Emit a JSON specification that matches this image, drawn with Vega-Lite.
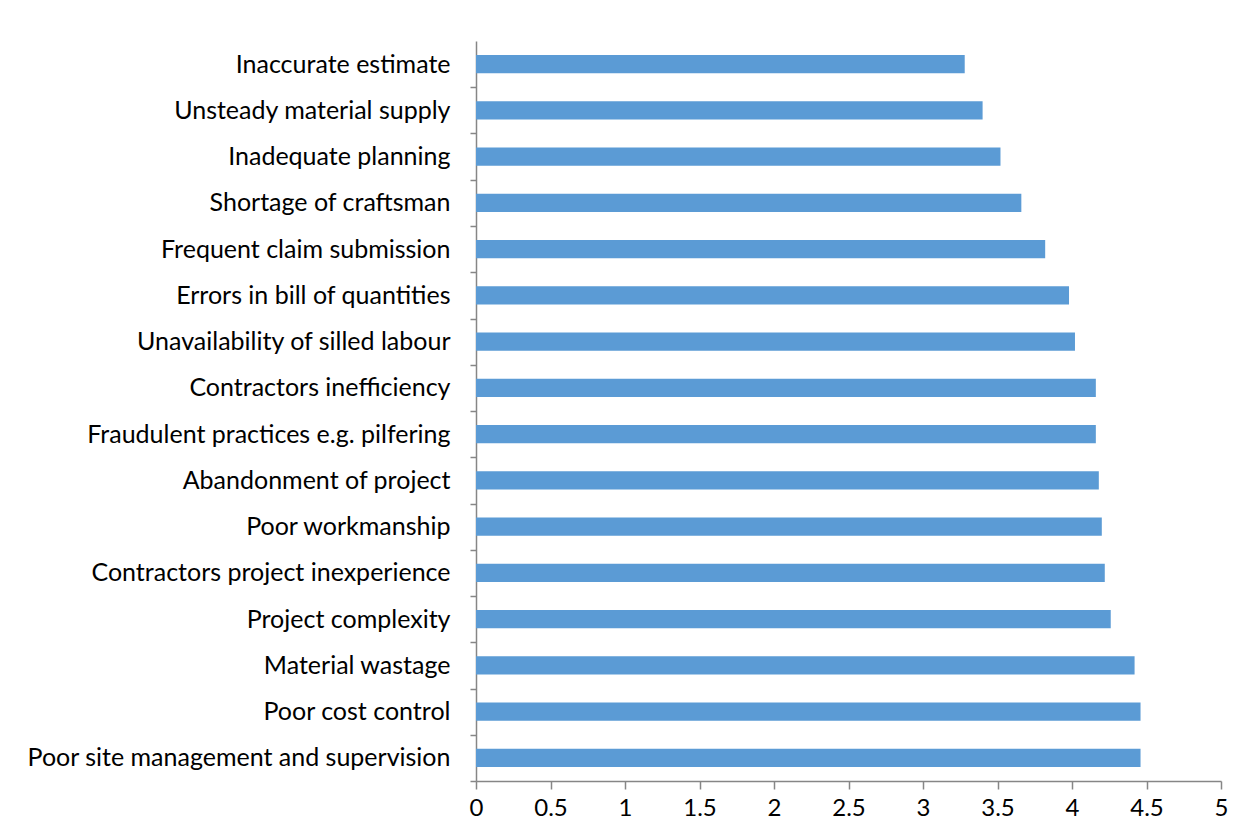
{
  "$schema": "https://vega.github.io/schema/vega-lite/v6.json",
  "autosize": "none",
  "width": 745,
  "height": 740,
  "padding": {"left": 476, "top": 41, "right": 27, "bottom": 58},
  "background": "white",
  "data": {"values": [
    {"factor": "Inaccurate estimate", "score": 3.28},
    {"factor": "Unsteady material supply", "score": 3.40},
    {"factor": "Inadequate planning", "score": 3.52},
    {"factor": "Shortage of craftsman", "score": 3.66},
    {"factor": "Frequent claim submission", "score": 3.82},
    {"factor": "Errors in bill of quantities", "score": 3.98},
    {"factor": "Unavailability of silled labour", "score": 4.02},
    {"factor": "Contractors inefficiency", "score": 4.16},
    {"factor": "Fraudulent practices e.g. pilfering", "score": 4.16},
    {"factor": "Abandonment of project", "score": 4.18},
    {"factor": "Poor workmanship", "score": 4.20},
    {"factor": "Contractors project inexperience", "score": 4.22},
    {"factor": "Project complexity", "score": 4.26},
    {"factor": "Material wastage", "score": 4.42},
    {"factor": "Poor cost control", "score": 4.46},
    {"factor": "Poor site management and supervision", "score": 4.46}
  ]},
  "mark": {"type": "bar", "color": "#5B9BD5"},
  "encoding": {
    "y": {
      "field": "factor", "type": "nominal", "sort": null,
      "scale": {"paddingInner": 0.61, "paddingOuter": 0.305},
      "axis": {
        "title": null, "tickBand": "center", "tickOffset": 23.125, "labelOffset": -23.125,
        "domainColor": "#868686", "tickColor": "#868686",
        "tickSize": 6, "tickWidth": 1.5, "labelPadding": 20, "labelFont": "Lato", "labelFontSize": 25,
        "labelColor": "#000000", "labelLimit": 500
      }
    },
    "x": {
      "field": "score", "type": "quantitative",
      "scale": {"domain": [0, 5], "nice": false},
      "axis": {
        "title": null, "values": [0, 0.5, 1, 1.5, 2, 2.5, 3, 3.5, 4, 4.5, 5], "grid": false,
        "labelExpr": "datum.value",
        "domainColor": "#868686", "tickColor": "#868686", "tickSize": 8, "labelPadding": 7,
        "labelFont": "Lato", "labelFontSize": 24, "labelColor": "#000000",
        "labelFlush": false, "labelOverlap": false
      }
    }
  },
  "config": {"view": {"stroke": null}, "axis": {"domainWidth": 1.5, "tickWidth": 1.5}}
}
